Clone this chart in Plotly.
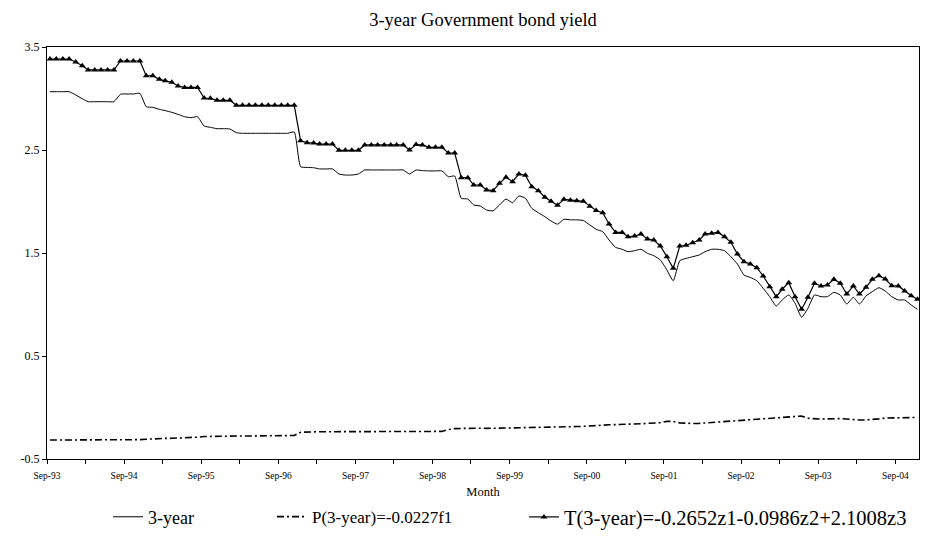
import pandas as pd
import plotly.graph_objects as go

# Monthly observations, Sep-93 .. Dec-04 (136 months)
months = pd.date_range("1993-09-01", periods=136, freq="MS") + pd.Timedelta(days=14)

yield_3y = [
    3.066, 3.066, 3.066, 3.066, 3.034, 2.998, 2.969, 2.969, 2.969, 2.969, 2.969, 3.041,
    3.044, 3.044, 3.050, 2.921, 2.914, 2.895, 2.882, 2.866, 2.846, 2.823, 2.814, 2.823,
    2.733, 2.720, 2.707, 2.707, 2.704, 2.668, 2.662, 2.662, 2.662, 2.662, 2.662, 2.662,
    2.662, 2.662, 2.675, 2.338, 2.331, 2.328, 2.316, 2.316, 2.316, 2.267, 2.257, 2.257,
    2.267, 2.306, 2.306, 2.306, 2.306, 2.306, 2.306, 2.306, 2.267, 2.306, 2.300, 2.297,
    2.297, 2.297, 2.241, 2.247, 2.031, 2.024, 1.966, 1.956, 1.917, 1.910, 1.966, 2.024,
    1.988, 2.053, 2.031, 1.934, 1.891, 1.853, 1.811, 1.780, 1.827, 1.822, 1.822, 1.815,
    1.772, 1.730, 1.707, 1.626, 1.555, 1.536, 1.513, 1.522, 1.536, 1.497, 1.474, 1.432,
    1.335, 1.231, 1.425, 1.448, 1.464, 1.481, 1.513, 1.536, 1.536, 1.522, 1.464, 1.393,
    1.286, 1.263, 1.231, 1.157, 1.076, 0.985, 1.044, 1.092, 1.012, 0.876, 0.963, 1.092,
    1.076, 1.076, 1.118, 1.092, 1.005, 1.070, 1.005, 1.083, 1.125, 1.163, 1.131, 1.076,
    1.044, 1.044, 0.995, 0.953,
]

p_3y = [
    -0.316, -0.316, -0.315, -0.314, -0.313, -0.313, -0.314, -0.315, -0.316, -0.318, -0.318, -0.317,
    -0.316, -0.314, -0.312, -0.308, -0.303, -0.301, -0.300, -0.299, -0.298, -0.297, -0.295, -0.288,
    -0.282, -0.280, -0.279, -0.278, -0.278, -0.277, -0.277, -0.277, -0.277, -0.277, -0.276, -0.276,
    -0.276, -0.276, -0.272, -0.240, -0.236, -0.235, -0.235, -0.235, -0.235, -0.236, -0.236, -0.236,
    -0.235, -0.234, -0.234, -0.234, -0.234, -0.234, -0.234, -0.235, -0.236, -0.234, -0.234, -0.234,
    -0.234, -0.232, -0.215, -0.205, -0.203, -0.201, -0.200, -0.201, -0.203, -0.202, -0.200, -0.199,
    -0.199, -0.197, -0.195, -0.196, -0.197, -0.195, -0.193, -0.192, -0.190, -0.188, -0.185, -0.183,
    -0.178, -0.172, -0.170, -0.168, -0.166, -0.165, -0.162, -0.160, -0.158, -0.154, -0.152, -0.148,
    -0.135, -0.135, -0.150, -0.155, -0.155, -0.154, -0.150, -0.142, -0.138, -0.136, -0.135, -0.128,
    -0.120, -0.115, -0.112, -0.108, -0.105, -0.104, -0.098, -0.092, -0.085, -0.083, -0.105, -0.112,
    -0.112, -0.110, -0.106, -0.108, -0.112, -0.118, -0.121, -0.121, -0.118, -0.110, -0.103, -0.100,
    -0.099, -0.098, -0.098, -0.096,
]

t_3y = [
    3.383, 3.383, 3.383, 3.383, 3.354, 3.318, 3.277, 3.277, 3.277, 3.277, 3.277, 3.364,
    3.364, 3.364, 3.364, 3.221, 3.221, 3.186, 3.173, 3.157, 3.121, 3.108, 3.108, 3.108,
    3.005, 3.002, 2.982, 2.982, 2.982, 2.934, 2.934, 2.934, 2.934, 2.934, 2.934, 2.934,
    2.934, 2.934, 2.934, 2.590, 2.571, 2.568, 2.558, 2.558, 2.558, 2.497, 2.497, 2.497,
    2.497, 2.549, 2.549, 2.549, 2.549, 2.549, 2.549, 2.549, 2.500, 2.553, 2.549, 2.526,
    2.526, 2.526, 2.471, 2.471, 2.231, 2.231, 2.160, 2.160, 2.112, 2.105, 2.176, 2.235,
    2.192, 2.267, 2.254, 2.144, 2.105, 2.041, 2.002, 1.963, 2.021, 2.011, 2.008, 2.002,
    1.955, 1.912, 1.891, 1.782, 1.700, 1.700, 1.658, 1.664, 1.684, 1.636, 1.626, 1.568,
    1.464, 1.351, 1.568, 1.575, 1.600, 1.626, 1.684, 1.691, 1.700, 1.658, 1.604, 1.490,
    1.416, 1.393, 1.357, 1.277, 1.173, 1.076, 1.148, 1.212, 1.076, 0.953, 1.070, 1.206,
    1.180, 1.189, 1.245, 1.206, 1.102, 1.180, 1.102, 1.167, 1.245, 1.280, 1.248, 1.183,
    1.180, 1.131, 1.085, 1.050,
]

tick_dates = [f"{y}-09-01" for y in range(1993, 2005)]
tick_labels = ["Sep-93", "Sep-94", "Sep-95", "Sep-96", "Sep-97", "Sep-98",
               "Sep-99", "Sep-00", "Sep-01", "Sep-02", "Sep-03", "Sep-04"]
y_ticks = [-0.5, 0.5, 1.5, 2.5, 3.5]

FONT = "Liberation Serif, Times New Roman, serif"

fig = go.Figure()
fig.add_trace(go.Scatter(
    x=months, y=yield_3y, mode="lines", name="3-year",
    line=dict(color="black", width=1, shape="spline", smoothing=0.5),
    legend="legend", showlegend=True,
))
fig.add_trace(go.Scatter(
    x=months, y=p_3y, mode="lines", name="P(3-year)=-0.0227f1",
    line=dict(color="black", width=1.6, dash="7px,3px,2px,3px"),
    legend="legend2", showlegend=True,
))
fig.add_trace(go.Scatter(
    x=months, y=t_3y, mode="lines+markers", name="T(3-year)=-0.2652z1-0.0986z2+2.1008z3",
    line=dict(color="black", width=1.2),
    marker=dict(symbol="triangle-up", size=6, color="black"),
    legend="legend3", showlegend=True,
))

def leg(x, size):
    return dict(orientation="h", yanchor="middle", y=-0.141, xanchor="left", x=x,
                font=dict(family=FONT, size=size, color="black"),
                bgcolor="rgba(0,0,0,0)", borderwidth=0, itemwidth=30)

fig.update_layout(
    width=926, height=539,
    margin=dict(l=47, r=7, t=47, b=80, autoexpand=False),
    paper_bgcolor="white", plot_bgcolor="white",
    showlegend=True,
    font=dict(family=FONT, color="black"),
    title=dict(text="3-year Government bond yield", x=(47 + 919) / 2 / 926, xanchor="center",
               y=1 - 20 / 539, yanchor="middle",
               font=dict(family=FONT, size=18.5, color="black")),
    legend=leg(0.070, 18),
    legend2=leg(0.258, 17),
    legend3=leg(0.547, 20.5),
    xaxis=dict(
        type="date", range=["1993-09-01", "2004-12-22"],
        tickmode="array", tickvals=tick_dates, ticktext=tick_labels,
        ticks="outside", ticklen=4, tickcolor="black", tickwidth=1,
        ticklabelstandoff=4, automargin=False,
        minor=dict(dtick="M6", tick0="1993-09-01", ticks="outside", ticklen=4,
                   tickcolor="black", showgrid=False),
        showgrid=False, zeroline=False,
        showline=True, linecolor="black", linewidth=1, mirror=True,
        tickfont=dict(family=FONT, size=9.5, color="black"),
        title=dict(text="Month", font=dict(family=FONT, size=12.5, color="black"), standoff=6),
    ),
    yaxis=dict(
        range=[-0.5, 3.5], tickmode="array", tickvals=y_ticks,
        ticktext=[str(v) for v in y_ticks], automargin=False,
        ticks="outside", ticklen=4, tickcolor="black", tickwidth=1,
        showgrid=False, zeroline=False,
        showline=True, linecolor="black", linewidth=1, mirror=True,
        tickfont=dict(family=FONT, size=12, color="black"),
    ),
)

fig.write_html("out.html")
